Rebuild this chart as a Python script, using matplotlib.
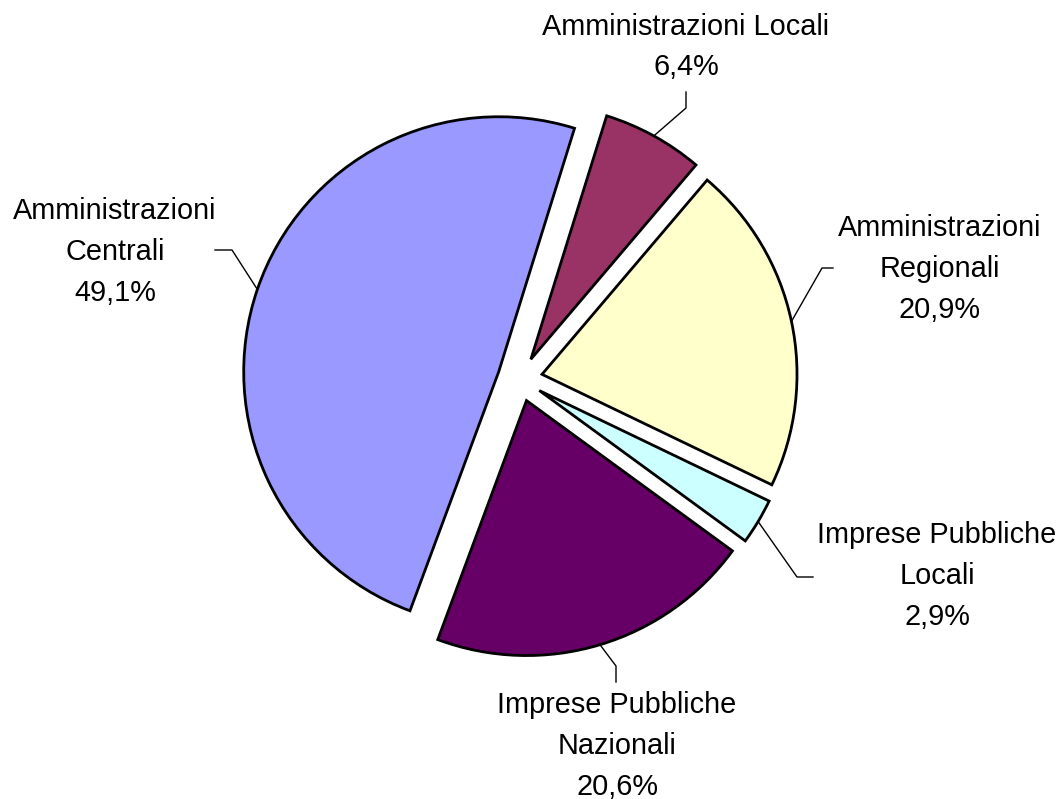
import numpy as np
import matplotlib
matplotlib.use('Agg')
import matplotlib.pyplot as plt

# dati
categorie = ["Amministrazioni Locali", "Amministrazioni Regionali",
             "Imprese Pubbliche Locali", "Imprese Pubbliche Nazionali",
             "Amministrazioni Centrali"]
valori = [6.4, 20.9, 2.9, 20.6, 49.1]
etichette = ["Amministrazioni Locali\n6,4%",
             "Amministrazioni\nRegionali\n20,9%",
             "Imprese Pubbliche\nLocali\n2,9%",
             "Imprese Pubbliche\nNazionali\n20,6%",
             "Amministrazioni\nCentrali\n49,1%"]
colori = ["#993366", "#FFFFCC", "#CCFFFF", "#660066", "#9999FF"]

# posizioni etichette (pixel, y dal basso): testo, gomito, fine linea
pos_testo = [(686, 752), (940, 530), (937, 223), (617, 53), (115, 547)]
gomiti = [(686, 691), (822, 531), (797, 222), (616, 133), (232, 549)]
fine_linea = [(686, 707), (833, 531), (813, 222), (616, 117), (215, 549)]

plt.rcParams['font.family'] = ['Liberation Sans', 'DejaVu Sans']

fig = plt.figure(figsize=(10.58, 7.99), dpi=100)
ax = fig.add_axes([0, 0, 1, 1])

raggio = 255
# explode in unità dati (pixel)
wedges, _ = ax.pie(valori, colors=colori, startangle=72.7, counterclock=False,
                   radius=raggio, center=(520, 420), explode=[22.5] * 5,
                   wedgeprops=dict(edgecolor='black', linewidth=2))
ax.set_xlim(0, 1058)
ax.set_ylim(0, 799)
ax.set_aspect('equal')
ax.axis('off')

for w, testo, (tx, ty), (gx, gy), (fx, fy) in zip(wedges, etichette, pos_testo, gomiti, fine_linea):
    ang = np.deg2rad((w.theta1 + w.theta2) / 2)
    cx, cy = w.center
    sx = cx + w.r * np.cos(ang)
    sy = cy + w.r * np.sin(ang)
    ax.plot([sx, gx, fx], [sy, gy, fy], color='black', linewidth=1)
    ax.text(tx, ty, testo, ha='center', va='center', fontsize=20.8,
            linespacing=1.58, multialignment='center')

fig.savefig('out.png', dpi=100)
